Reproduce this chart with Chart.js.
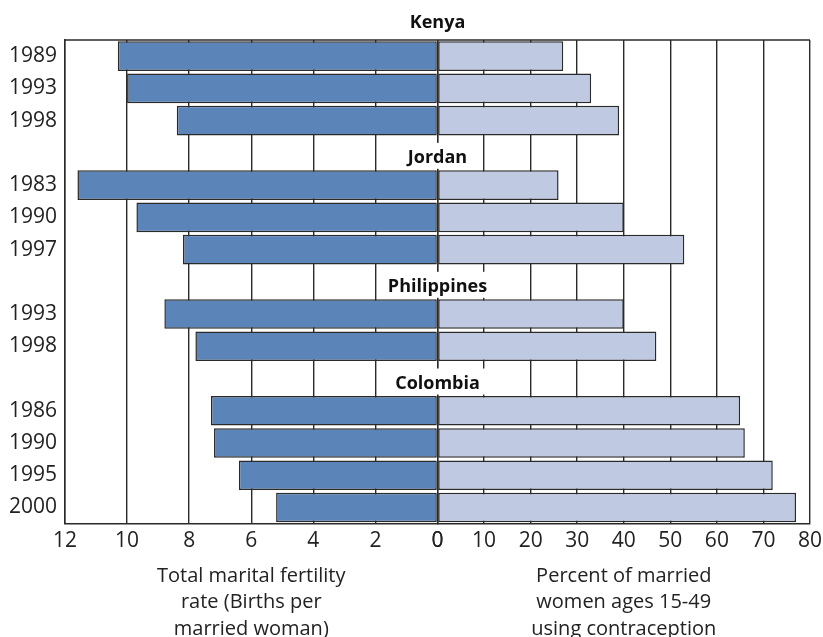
<!DOCTYPE html>
<html>
<head>
<meta charset="utf-8">
<script src="https://cdn.jsdelivr.net/npm/chart.js@4"></script>
<style>
  html,body{margin:0;padding:0;background:#fff;overflow:hidden}
  #wrap{width:823px;height:642px}
</style>
</head>
<body>
<div id="wrap"><canvas id="c"></canvas></div>
<script>
// ====== DATA ======
const years        = ['1989','1993','1998','','1983','1990','1997','','1993','1998','','1986','1990','1995','2000'];
const fertility    = [10.3, 10.0, 8.4, null, 11.6, 9.7, 8.2, null, 8.8, 7.8, null, 7.3, 7.2, 6.4, 5.2];
const contraception= [27, 33, 39, null, 26, 40, 53, null, 40, 47, null, 65, 66, 72, 77];
const countries    = ['Kenya','Jordan','Philippines','Colombia'];
const countryRows  = [-1, 3, 7, 10]; // row index where each country heading sits
const leftTitle    = ['Total marital fertility','rate (Births per','married woman)'];
const rightTitle   = ['Percent of married','women ages 15-49','using contraception'];

// ====== STYLE ======
const INK = '#2a2a2a', FONT = "'Open Sans', sans-serif";

// frame top line + country headings on white boxes
const decor = {
  id:'decor',
  beforeDatasetsDraw(chart){
    const {ctx, chartArea:a} = chart;
    ctx.save(); ctx.strokeStyle = INK; ctx.lineWidth = 1.5;
    ctx.beginPath(); ctx.moveTo(a.left, a.top); ctx.lineTo(a.right, a.top); ctx.stroke();
    ctx.restore();
  },
  afterDatasetsDraw(chart){
    const {ctx} = chart; const y = chart.scales.y;
    const cx = chart.scales.x1.right;
    ctx.save();
    ctx.font = `bold 18px ${FONT}`; ctx.textAlign = 'center'; ctx.textBaseline = 'middle';
    countries.forEach((name, i) => {
      const py = y.getPixelForValue(countryRows[i]) + (i === 0 ? -1 : 5);
      const w = ctx.measureText(name).width + 14;
      if(i > 0){ ctx.fillStyle = '#fff'; ctx.fillRect(cx - w/2, py - 15, w, 26); }
      ctx.fillStyle = '#111'; ctx.fillText(name, cx, py);
    });
    ctx.restore();
  }
};

const grid = { color: INK, lineWidth: 1.4, drawTicks: false };
const ticks = { color: '#222', font: { family: FONT, size: 21 }, padding: 5, maxRotation: 0, autoSkip: false };
const titleOpts = (t) => ({ display: true, text: t, color: '#222', font: { family: FONT, size: 20, lineHeight: 1.32 }, padding: { top: 4, bottom: 0 } });

new Chart(document.getElementById('c'), {
  type: 'bar',
  data: {
    labels: years,
    datasets: [
      { label: 'Fertility', data: fertility, xAxisID: 'x1', grouped: false,
        backgroundColor: '#5b84b8', borderColor: INK, borderWidth: 1.5, borderSkipped: false,
        barPercentage: 0.92, categoryPercentage: 1 },
      { label: 'Contraception', data: contraception, xAxisID: 'x2', grouped: false,
        backgroundColor: '#bfc9e2', borderColor: INK, borderWidth: 1.5, borderSkipped: false,
        barPercentage: 0.92, categoryPercentage: 1 }
    ]
  },
  options: {
    indexAxis: 'y', responsive: true, maintainAspectRatio: false, animation: false,
    layout: { padding: { top: 40, left: 9, right: 13, bottom: 0 } },
    plugins: { legend: { display: false }, tooltip: { enabled: false } },
    scales: {
      y: { type: 'category', grid: { display: false }, border: { display: true, color: INK, width: 1.5 },
           ticks: { color: '#222', font: { family: FONT, size: 21 }, padding: 0, autoSkip: false } },
      x1: { type: 'linear', position: 'bottom', stack: 'x', stackWeight: 1, reverse: true,
            min: 0, max: 12, grid, border: { color: INK, width: 1.5 },
            ticks: { ...ticks, stepSize: 2 }, title: titleOpts(leftTitle) },
      x2: { type: 'linear', position: 'bottom', stack: 'x', stackWeight: 1,
            min: 0, max: 80, grid, border: { color: INK, width: 1.5 },
            ticks: { ...ticks, stepSize: 10 }, title: titleOpts(rightTitle),
            afterFit(s){ s.paddingRight = 0; } } // let "80" hang into the right margin
    }
  },
  plugins: [decor]
});
</script>
</body>
</html>
